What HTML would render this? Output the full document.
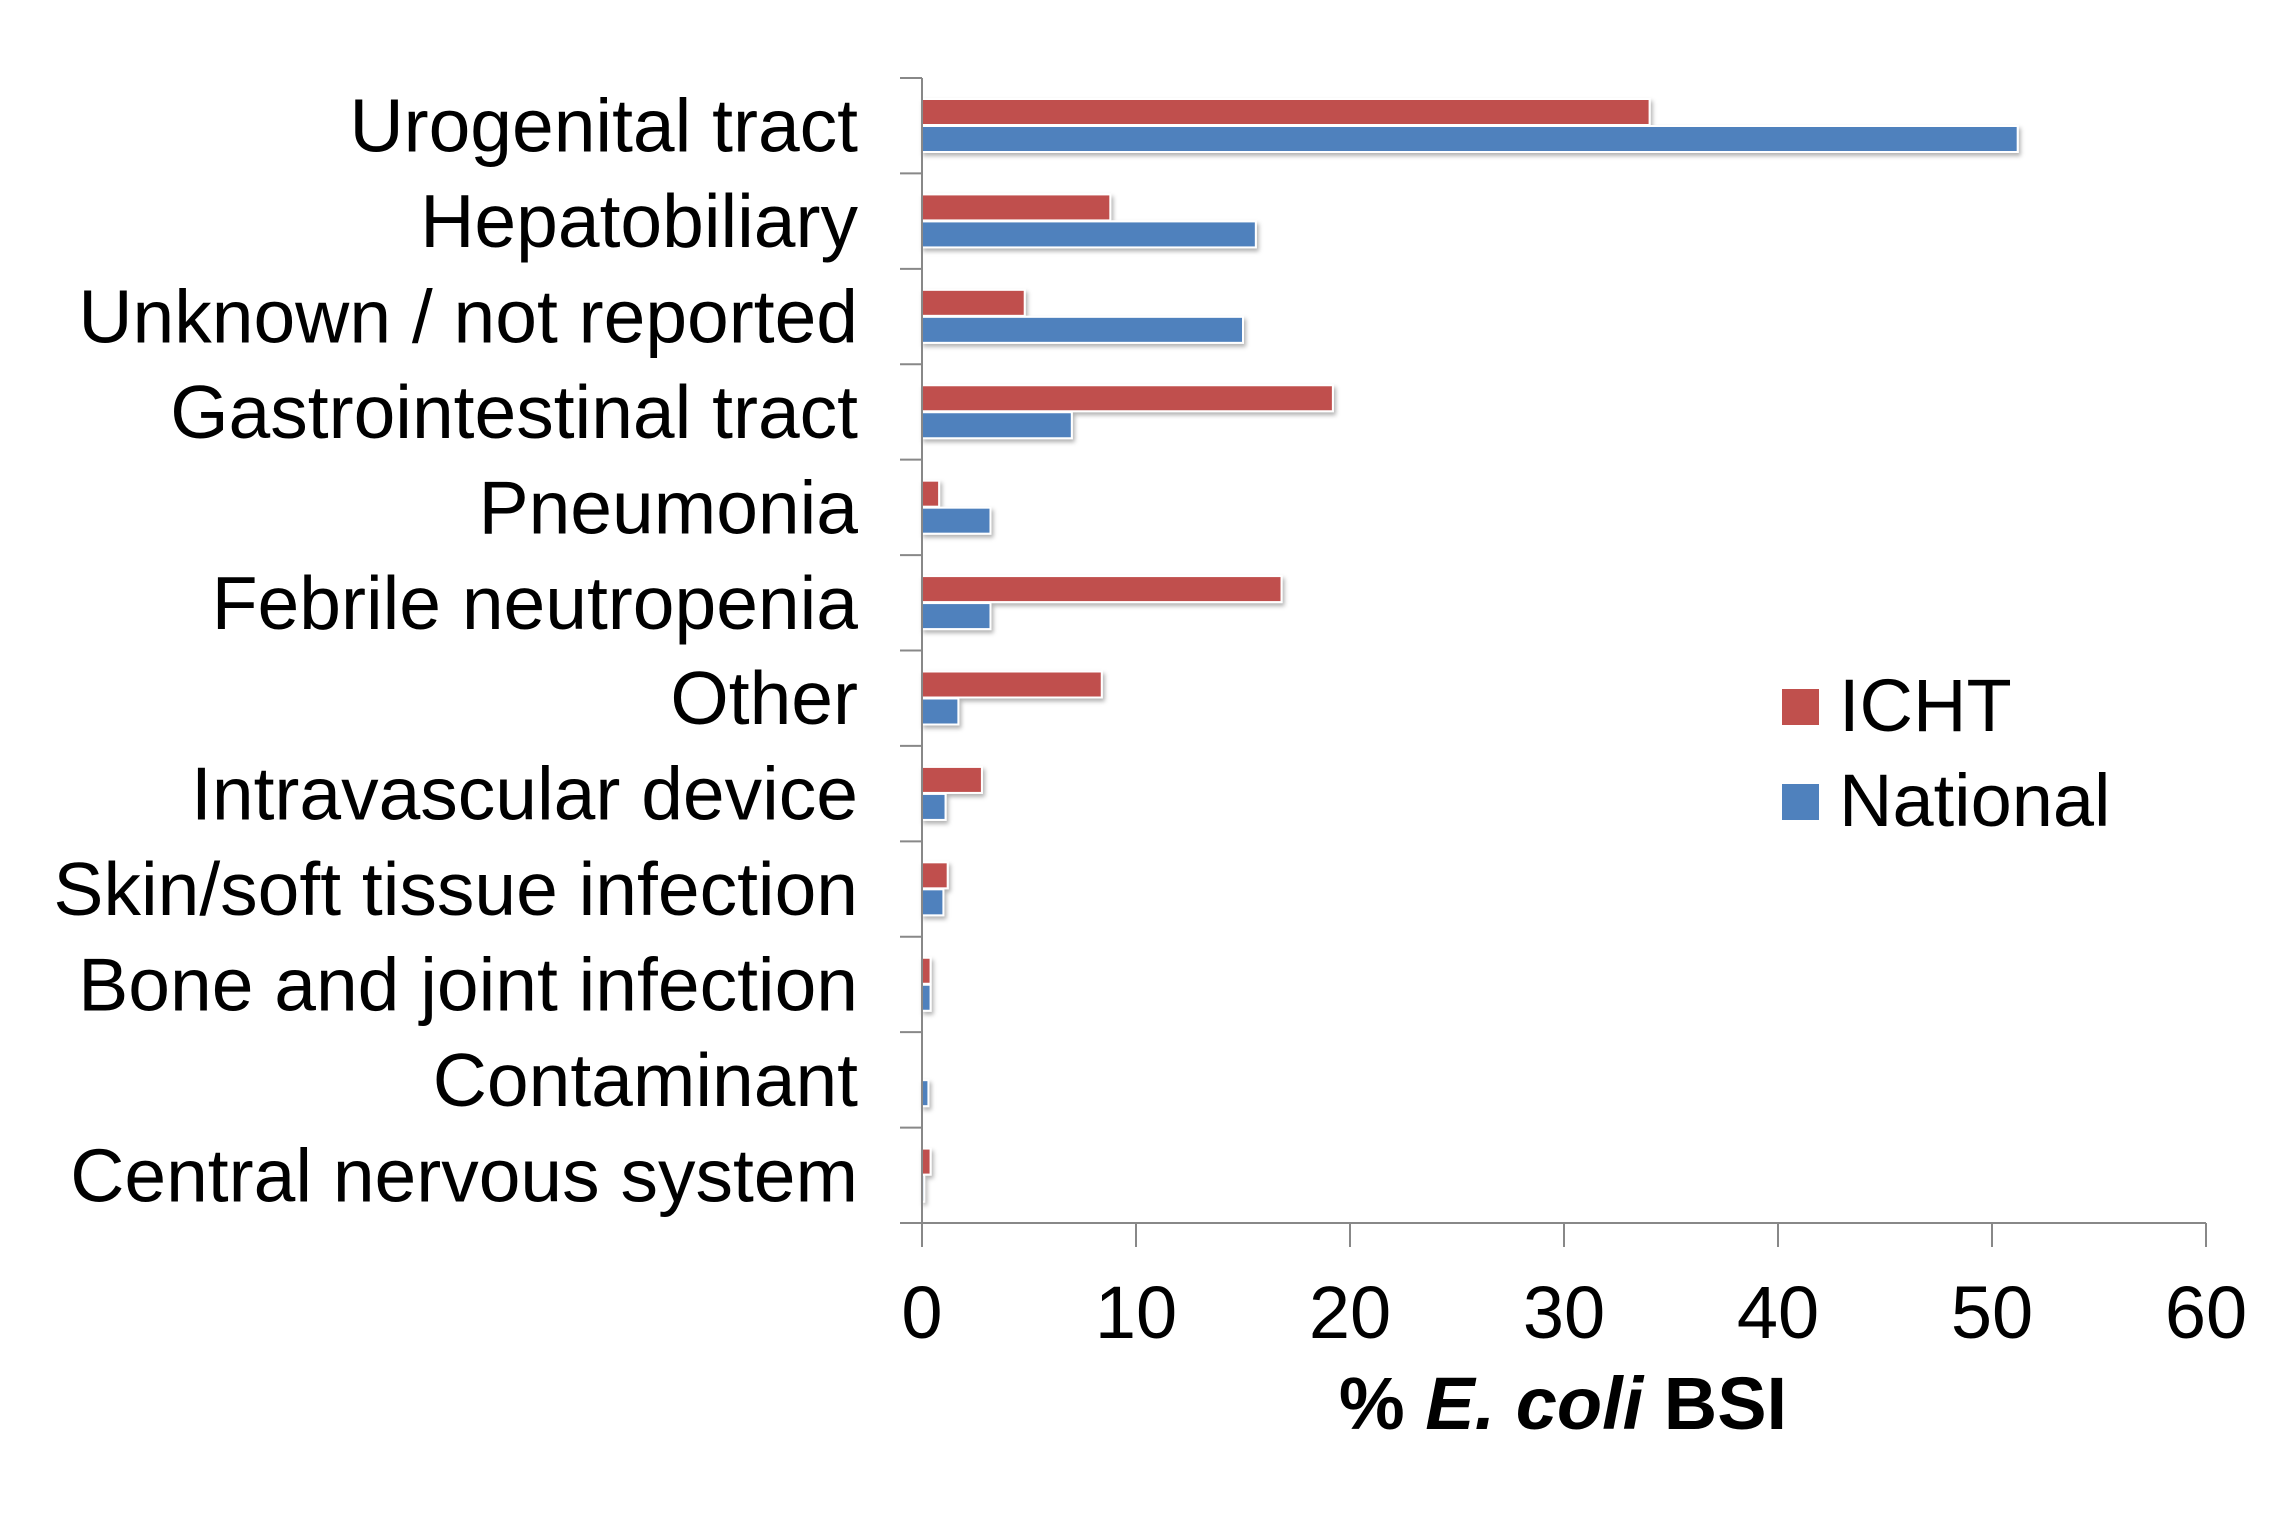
<!DOCTYPE html>
<html><head><meta charset="utf-8"><style>
html,body{margin:0;padding:0;background:#fff;}
svg{display:block;}
text{font-family:"Liberation Sans",Arial,sans-serif;fill:#000;}
</style></head><body>
<svg width="2279" height="1539" viewBox="0 0 2279 1539" xmlns="http://www.w3.org/2000/svg">
<defs>
<filter id="sh" x="-5%" y="-20%" width="110%" height="160%">
<feDropShadow dx="2" dy="3" stdDeviation="2" flood-color="#000" flood-opacity="0.3"/>
</filter>
</defs>
<g id="bars" stroke="#fff" stroke-width="2" filter="url(#sh)"></g>
<g stroke="#888" stroke-width="2" fill="none" id="axes"></g>
<g id="labels" font-size="75" text-anchor="end"></g>
<g font-size="74" text-anchor="middle" id="ticks"></g>
<text x="1563" y="1429" font-size="74" font-weight="bold" text-anchor="middle">% <tspan font-style="italic">E. coli</tspan> BSI</text>
<rect x="1782" y="689" width="37" height="36" fill="#C0504D"/>
<rect x="1782" y="784" width="37" height="36" fill="#4F81BD"/>
<text x="1839" y="731" font-size="74">ICHT</text>
<text x="1839" y="826" font-size="74">National</text>
<script>
(function(){
var cats=["Urogenital tract","Hepatobiliary","Unknown / not reported","Gastrointestinal tract","Pneumonia","Febrile neutropenia","Other","Intravascular device","Skin/soft tissue infection","Bone and joint infection","Contaminant","Central nervous system"];
var red=[34,8.8,4.8,19.2,0.8,16.8,8.4,2.8,1.2,0.4,0,0.4];
var blue=[51.2,15.6,15,7,3.2,3.2,1.7,1.1,1.0,0.4,0.3,0.1];
var x0=922,sx=21.4,y0=78,yb=1223,bh=(yb-y0)/12;
var ns="http://www.w3.org/2000/svg";
function el(p,t,a,txt){var e=document.createElementNS(ns,t);for(var k in a)e.setAttribute(k,a[k]);if(txt!=null)e.textContent=txt;document.getElementById(p).appendChild(e);}
for(var i=0;i<12;i++){var y=y0+i*bh;
 if(red[i]>0)el("bars","rect",{x:x0,y:y+21,width:red[i]*sx,height:26,fill:"#C0504D"});
 el("bars","rect",{x:x0,y:y+48,width:blue[i]*sx,height:26,fill:"#4F81BD"});
 el("labels","text",{x:858,y:y+bh/2+26},cats[i]);
}
for(var i=0;i<=12;i++){var y=y0+i*bh;el("axes","line",{x1:900,y1:y,x2:x0,y2:y});}
el("axes","line",{x1:x0,y1:y0,x2:x0,y2:1247});
el("axes","line",{x1:900,y1:yb,x2:2206,y2:yb});
for(var j=0;j<=6;j++){var x=x0+j*214;el("axes","line",{x1:x,y1:yb,x2:x,y2:1247});el("ticks","text",{x:x,y:1338},String(j*10));}
})();
</script>
</svg>
</body></html>
